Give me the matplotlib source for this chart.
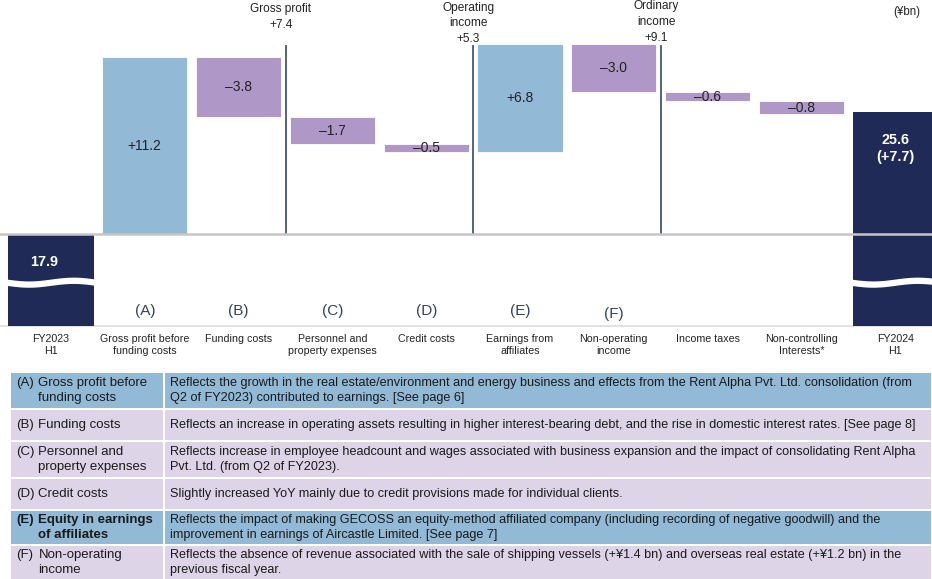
import numpy as np
import matplotlib
matplotlib.use("Agg")
import matplotlib.pyplot as plt
from matplotlib.patches import Rectangle

plt.rcParams['font.family'] = ['Liberation Sans', 'DejaVu Sans']

# -----------------------------
# DATA
# -----------------------------
categories = ["FY2023\nH1", "Gross profit before\nfunding costs", "Funding costs",
              "Personnel and\nproperty expenses", "Credit costs", "Earnings from\naffiliates",
              "Non-operating\nincome", "Income taxes", "Non-controlling\nInterests*", "FY2024\nH1"]
start_value = 17.9
deltas = [11.2, -3.8, -1.7, -0.5, 6.8, -3.0, -0.6, -0.8]
end_value = 25.6
end_change = 7.7
letters = ["", "(A)", "(B)", "(C)", "(D)", "(E)", "(F)", "", "", ""]

subtotal_names = ["Gross profit", "Operating\nincome", "Ordinary\nincome"]
subtotal_values = [7.4, 5.3, 9.1]
subtotal_after = [2, 4, 6]

row_keys = ["(A)", "(B)", "(C)", "(D)", "(E)", "(F)"]
row_titles = ["Gross profit before\nfunding costs", "Funding costs", "Personnel and\nproperty expenses",
              "Credit costs", "Equity in earnings\nof affiliates", "Non-operating\nincome"]
row_texts = [
    "Reflects the growth in the real estate/environment and energy business and effects from the Rent Alpha Pvt. Ltd. consolidation (from\nQ2 of FY2023) contributed to earnings. [See page 6]",
    "Reflects an increase in operating assets resulting in higher interest-bearing debt, and the rise in domestic interest rates. [See page 8]",
    "Reflects increase in employee headcount and wages associated with business expansion and the impact of consolidating Rent Alpha\nPvt. Ltd. (from Q2 of FY2023).",
    "Slightly increased YoY mainly due to credit provisions made for individual clients.",
    "Reflects the impact of making GECOSS an equity-method affiliated company (including recording of negative goodwill) and the\nimprovement in earnings of Aircastle Limited. [See page 7]",
    "Reflects the absence of revenue associated with the sale of shipping vessels (+\u00a51.4 bn) and overseas real estate (+\u00a51.2 bn) in the\nprevious fiscal year.",
]
row_highlight = [True, False, False, False, True, False]

# -----------------------------
# STYLE
# -----------------------------
BLUE = "#92bad6"
PURPLE = "#af98c7"
NAVY = "#1f2a57"
LAVENDER = "#ddd5e7"
LINE = "#46566b"
LETTER = "#34405e"

W, H = 932, 579
fig = plt.figure(figsize=(W / 100, H / 100), dpi=100)

ax_bottom_px = 326
ax = fig.add_axes([0, 1 - ax_bottom_px / H, 1, ax_bottom_px / H])
px_per_unit = 15.8
ylo = start_value - (ax_bottom_px - 234) / px_per_unit
yhi = start_value + 234 / px_per_unit
ax.set_ylim(ylo, yhi)
pitch = 93.8
ax.set_xlim(-51 / pitch, (W - 51) / pitch)
for s in ax.spines.values():
    s.set_visible(False)
ax.set_yticks([])

bw = 0.91
n = len(categories)
x = np.arange(n)

# base bars
for i, v in [(0, start_value), (n - 1, end_value)]:
    ax.bar(i, v - ylo, bottom=ylo, width=bw, color=NAVY, zorder=2)

# waterfall steps
level = start_value
for k, d in enumerate(deltas):
    i = k + 1
    bottom = level if d > 0 else level + d
    ax.bar(i, abs(d), bottom=bottom, width=bw, color=BLUE if d > 0 else PURPLE,
           edgecolor="white", linewidth=0.6, zorder=2)
    txt = ("+%.1f" % d) if d > 0 else "\u2013%.1f" % abs(d)
    ax.text(i, bottom + abs(d) / 2, txt, ha="center", va="center", fontsize=10,
            color="#222222", zorder=4)
    level += d

# value labels on base bars
ax.text(-0.07, start_value - 1.8, "%.1f" % start_value, color="white", fontsize=10.4,
        fontweight="bold", ha="center", va="center", zorder=4)
ax.text(n - 1, end_value - 2.3, "%.1f\n(+%.1f)" % (end_value, end_change), color="white",
        fontsize=10.4, fontweight="bold", ha="center", va="center", linespacing=1.25, zorder=4)

# broken axis wave
brk = start_value - 3.05
for i in [0, n - 1]:
    xs = np.linspace(i - bw / 2 - 0.02, i + bw / 2 + 0.02, 60)
    yc = brk + 0.12 * np.sin(2 * np.pi * (xs - xs[0]) / (xs[-1] - xs[0]) + np.pi)
    ax.fill_between(xs, yc - 0.2, yc + 0.2, color="white", lw=0, zorder=3)

# baseline and bottom rule
ax.axhline(start_value, color="#c6c6c6", lw=1.8, zorder=5)
ax.axhline(ylo + 0.03, color="#dcdcdc", lw=1.2, zorder=1, clip_on=False)

# subtotal lines
line_top = 29.85
label_bottoms = [30.75, 29.85, 29.95]
for name, val, after, lb in zip(subtotal_names, subtotal_values, subtotal_after, label_bottoms):
    xl = after + 0.5
    ax.vlines(xl, start_value, line_top, color=LINE, lw=1.3, zorder=3)
    ax.text(xl - 0.05, lb, "%s\n+%.1f" % (name, val), ha="center", va="bottom", fontsize=8.6,
            color="#222222", linespacing=1.42)

# letters
for i, l in enumerate(letters):
    if l:
        yl = 13.03 if l != "(F)" else 12.84
        ax.text(i, yl, l, ha="center", va="center", fontsize=11, color=LETTER)

ax.text(9.12, 31.95, "(\u00a5bn)", ha="center", va="center", fontsize=8.3, color="#222222")

ax.set_xticks(x)
ax.set_xticklabels(categories, fontsize=7.7, linespacing=1.17, color="#222222")
ax.tick_params(axis="x", length=0, pad=6)

# -----------------------------
# TABLE
# -----------------------------
tax = fig.add_axes([0, 0, 1, 1], zorder=-1)
tax.set_xlim(0, W)
tax.set_ylim(H, 0)
tax.axis("off")

row_tops = [373, 410, 442, 479, 511, 546]
row_heights = [35, 30, 35, 30, 33, 33]
for key, title, text, hl, top, h in zip(row_keys, row_titles, row_texts, row_highlight,
                                        row_tops, row_heights):
    col = BLUE if hl else LAVENDER
    tax.add_patch(Rectangle((11, top), 152, h, color=col, lw=0))
    tax.add_patch(Rectangle((165, top), 766, h, color=col, lw=0))
    yc = top + h / 2
    weight = "bold" if key == "(E)" else "normal"
    # key sits on the first line of the title
    key_txt = key + "\n " * title.count("\n")
    tax.text(16, yc, key_txt, ha="left", va="center", fontsize=9.5, fontweight=weight,
             color="#1a1a1a", linespacing=1.32)
    tax.text(38.5, yc, title, ha="left", va="center", fontsize=9.5, fontweight=weight,
             color="#1a1a1a", linespacing=1.32)
    tax.text(170, yc, text, ha="left", va="center", fontsize=9.1, color="#1a1a1a",
             linespacing=1.4)

fig.savefig("out.png", dpi=100)
